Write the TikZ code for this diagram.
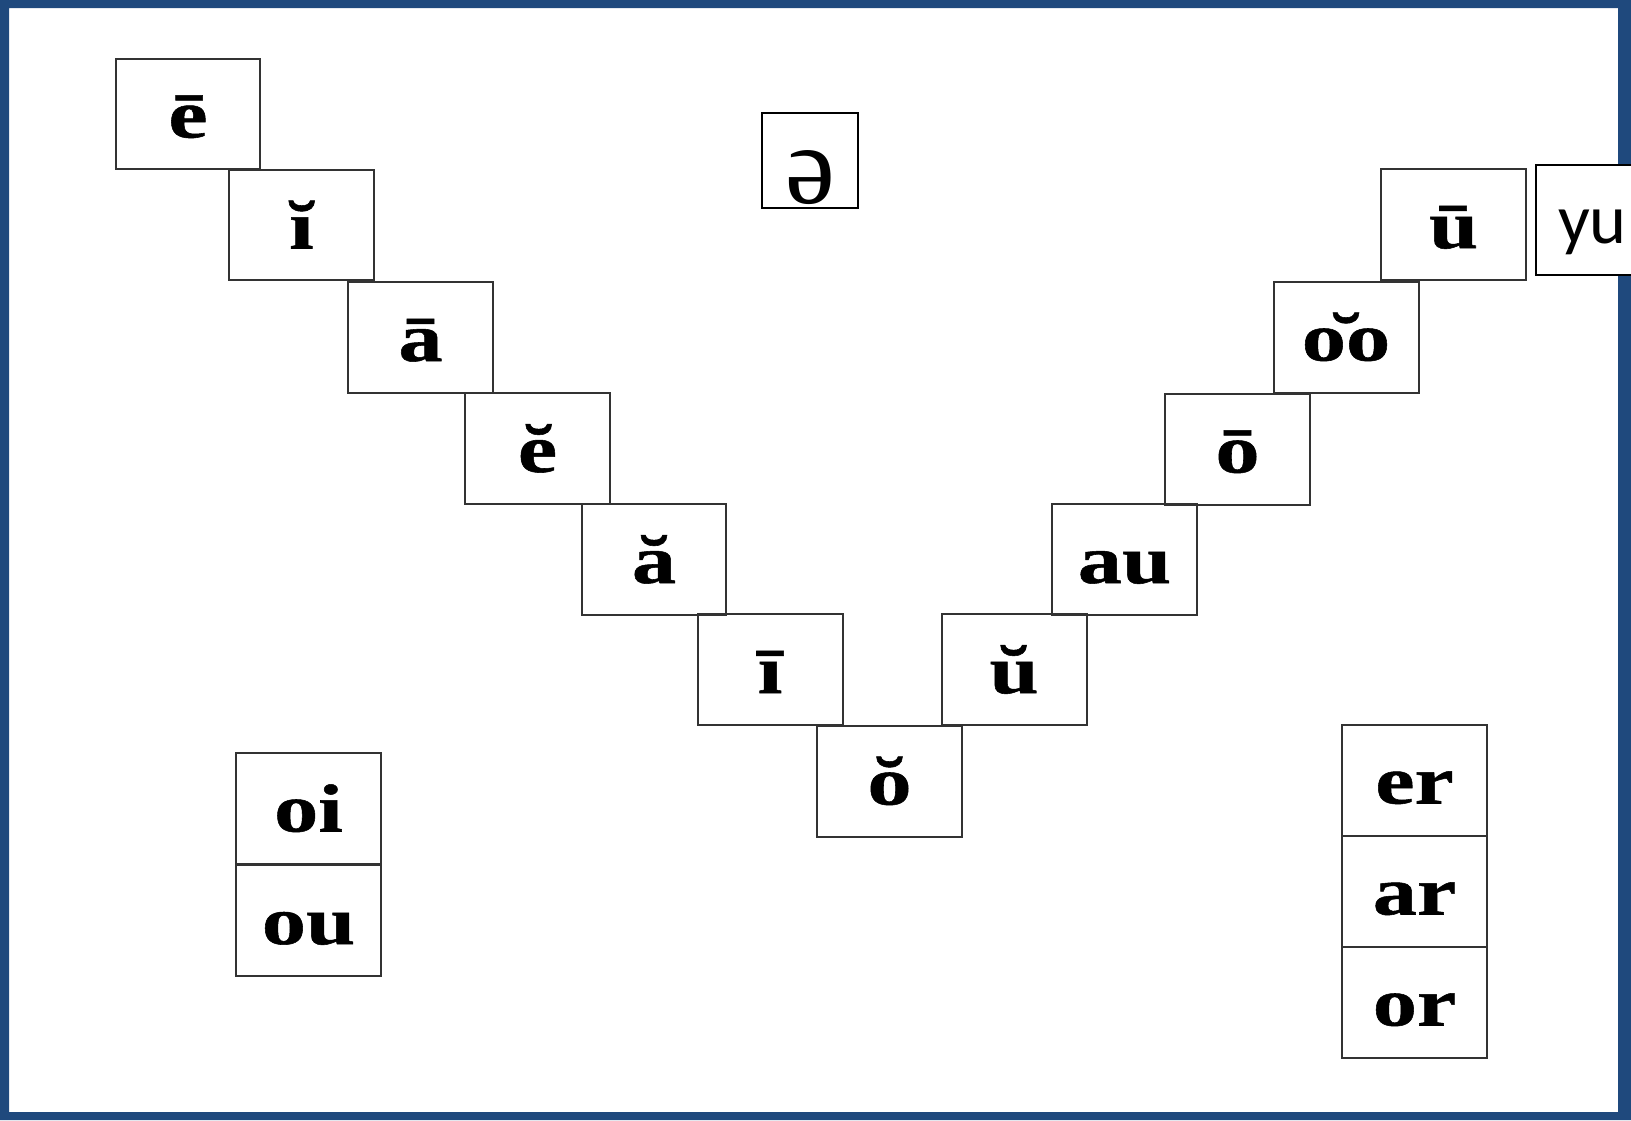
\documentclass[tikz,border=0pt]{standalone}
\usepackage{fontspec}
\newfontfamily\tilefont{Liberation Serif Bold}[FakeStretch=1.3, FakeBold=0.8]
\newfontfamily\schwafont{Liberation Serif}
\newfontfamily\yufont{Carlito}
\definecolor{marco}{RGB}{31,73,125}
\newcommand{\oobreve}{\ooalign{oo\cr\hidewidth\char"02D8\hidewidth\cr}}

\begin{document}
\begin{tikzpicture}[x=0.02cm, y=-0.02cm,
		tile/.style={draw=black!80, line width=0.04cm, inner sep=0pt, minimum width=2.9cm,
			text height=1.58cm, text depth=0.64cm, font=\tilefont\fontsize{38.7}{40}\selectfont},
		schwabox/.style={draw=black, line width=0.04cm, inner sep=0pt, minimum width=1.92cm,
			text height=1.8cm, text depth=0.1cm, font=\schwafont\fontsize{64}{64}\selectfont},
		yubox/.style={draw=black, fill=white, line width=0.04cm, inner xsep=0.44cm, inner ysep=0pt,
			text height=1.56cm, text depth=0.64cm, font=\yufont\fontsize{40}{40}\selectfont}]

	\useasboundingbox (0,0) rectangle (1631,1120);
	\fill[marco, even odd rule] (0,0) rectangle (1631,1120) (9,8) rectangle (1618,1112);

	% Rama izquierda
	\node[tile] (elong) at (188,114) {ē};
	\node[tile] (ishort) at (301.5,225) {ĭ};
	\node[tile] (along) at (420.5,337.5) {ā};
	\node[tile] (eshort) at (537.5,448.5) {ĕ};
	\node[tile] (ashort) at (654,559.5) {ă};
	\node[tile] (ilong) at (770,669.5) {ī};
	\node[tile] (oshort) at (889.5,781) {ŏ};

	% Rama derecha
	\node[tile] (ushort) at (1014,669.5) {ŭ};
	\node[tile] (au) at (1124.5,559.5) {au};
	\node[tile] (olong) at (1237.5,449) {ō};
	\node[tile] (oo) at (1346,337) {\oobreve};
	\node[tile] (ulong) at (1453.5,224.5) {ū};

	% Diptongos y r
	\node[tile] (oi) at (308.5,808) {oi};
	\node[tile] (ou) at (308.5,920.5) {ou};
	\node[tile] (er) at (1414.5,780) {er};
	\node[tile] (ar) at (1414.5,891) {ar};
	\node[tile] (or) at (1414.5,1002) {or};

	\node[schwabox] (schwa) at (810,160.5) {ə};
	\node[yubox, anchor=west] (yu) at (1535,220) {yu};

\end{tikzpicture}
\end{document}
